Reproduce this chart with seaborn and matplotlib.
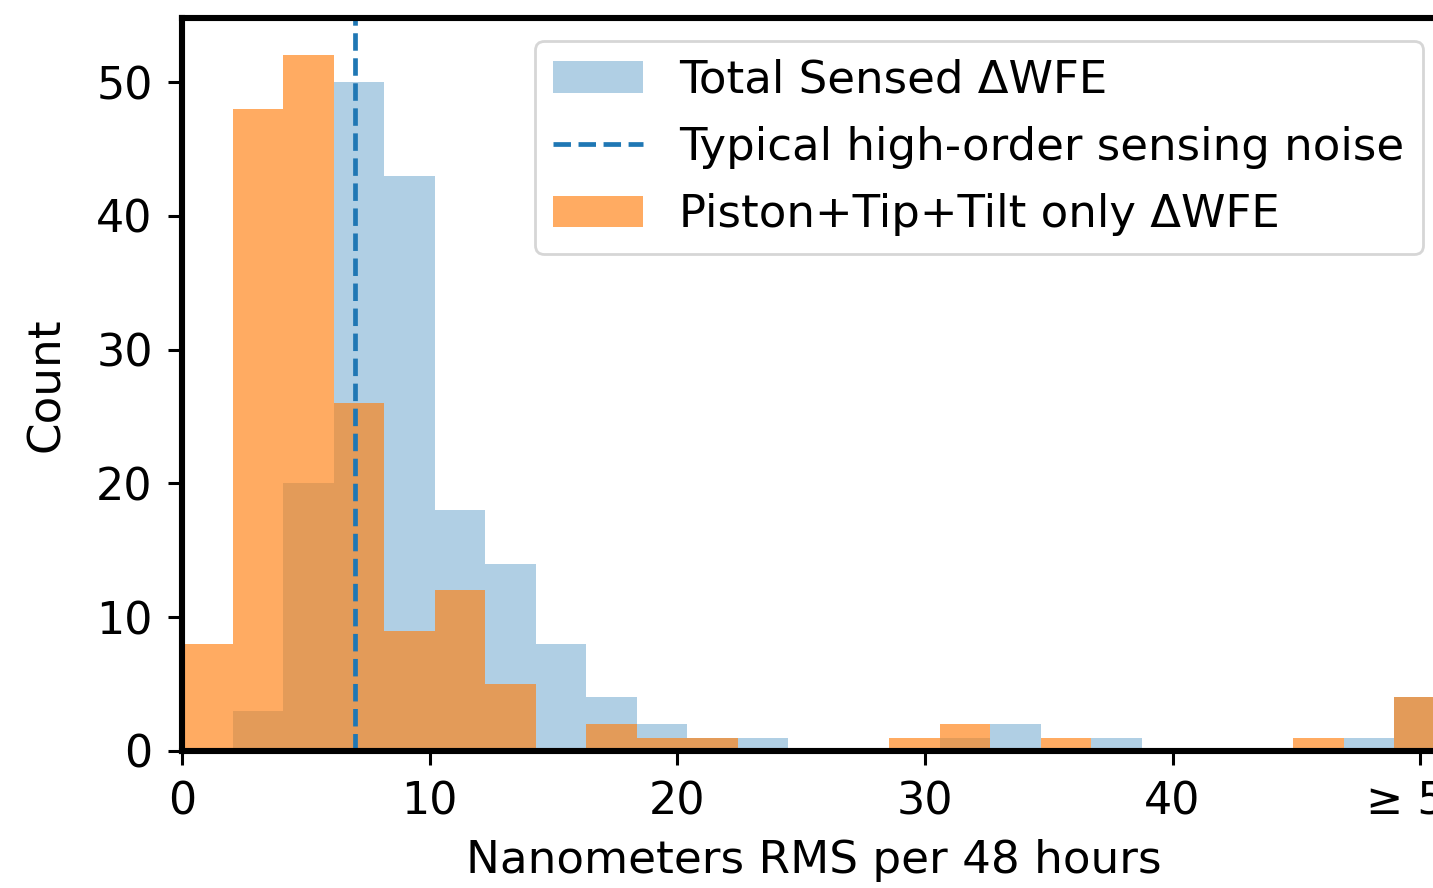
import numpy as np
import pandas as pd
import matplotlib
matplotlib.use("Agg")
import matplotlib.pyplot as plt
from matplotlib.patches import Patch
from matplotlib.lines import Line2D
import seaborn as sns

# Histogram bins (values >= 50 are collected into the last bin)
bin_edges = list(np.linspace(0, 51, 26))
bin_centers = [(a + b) / 2 for a, b in zip(bin_edges[:-1], bin_edges[1:])]

total_counts = [0, 3, 20, 50, 43, 18, 14, 8, 4, 2, 1, 1, 0, 0, 0, 1, 2, 0, 1, 0, 0, 0, 0, 1, 4]
ptt_counts = [8, 48, 52, 26, 9, 12, 5, 0, 2, 1, 1, 0, 0, 0, 1, 2, 0, 1, 0, 0, 0, 0, 1, 0, 4]

noise_level = 7

xtick_values = [0, 10, 20, 30, 40, 50]
xtick_labels = ["0", "10", "20", "30", "40", "≥ 50"]
ytick_values = [0, 10, 20, 30, 40, 50]

label_total = "Total Sensed ΔWFE"
label_noise = "Typical high-order sensing noise"
label_ptt = "Piston+Tip+Tilt only ΔWFE"

df_total = pd.DataFrame({"x": bin_centers, "w": total_counts})
df_ptt = pd.DataFrame({"x": bin_centers, "w": ptt_counts})

sns.set_style("ticks")
plt.rcParams["font.family"] = ["DejaVu Sans"]
plt.rcParams["font.size"] = 16
plt.rcParams["text.color"] = "black"
plt.rcParams["axes.labelcolor"] = "black"
plt.rcParams["xtick.color"] = "black"
plt.rcParams["ytick.color"] = "black"

fig = plt.figure(figsize=(1433 / 200, 888 / 200), dpi=200)
ax = fig.add_axes([182 / 1433, 1 - 751 / 888, 1263 / 1433, 733 / 888])

blue = "tab:blue"
orange = "tab:orange"
a_blue = 0.35
a_orange = 0.65
line_w = 1.7

sns.histplot(data=df_total, x="x", weights="w", bins=bin_edges, color=blue,
             alpha=a_blue, edgecolor="none", linewidth=0, ax=ax)
ax.axvline(noise_level, color=blue, linestyle="--", linewidth=line_w)
sns.histplot(data=df_ptt, x="x", weights="w", bins=bin_edges, color=orange,
             alpha=a_orange, edgecolor="none", linewidth=0, ax=ax)

ax.set_xlim(0, 51)
ax.set_ylim(0, 54.8)
ax.set_xticks(xtick_values)
ax.set_xticklabels(xtick_labels)
ax.set_yticks(ytick_values)
ax.tick_params(axis="both", labelsize=16, width=1.1, length=5.2, pad=5.3,
               color="black", labelcolor="black")
ax.set_xlabel("Nanometers RMS per 48 hours", fontsize=16.3, labelpad=5.8)
ax.set_ylabel("Count", fontsize=16.3, labelpad=10)

for s in ax.spines.values():
    s.set_visible(True)
    s.set_linewidth(2.2)
    s.set_color("black")

handles = [
    Patch(facecolor=blue, alpha=a_blue, edgecolor="none"),
    Line2D([0], [0], color=blue, linestyle="--", linewidth=line_w),
    Patch(facecolor=orange, alpha=a_orange, edgecolor="none"),
]
leg = ax.legend(handles, [label_total, label_noise, label_ptt], loc="upper right",
                fontsize=16.2, labelspacing=0.54, frameon=True, fancybox=True,
                framealpha=0.8, edgecolor="0.8")
leg.get_frame().set_linewidth(1.0)

fig.savefig("out.png", dpi=200)
